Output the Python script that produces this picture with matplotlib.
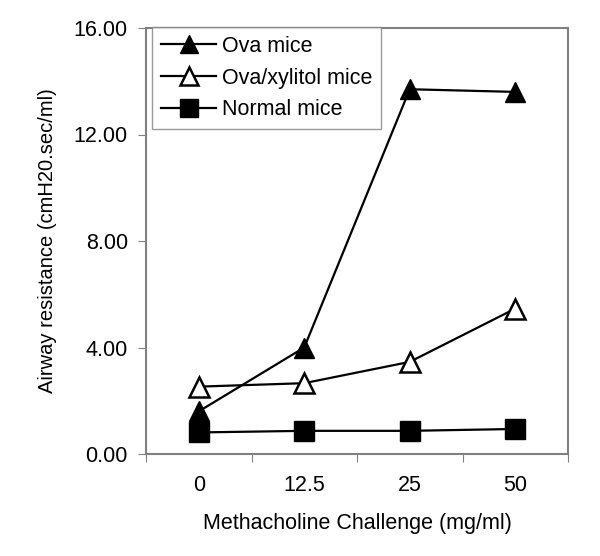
import matplotlib
matplotlib.use("Agg")
import matplotlib.pyplot as plt

plt.rcParams['font.family'] = ['Liberation Sans', 'DejaVu Sans']

categories = ["0", "12.5", "25", "50"]
ova = [1.6, 4.0, 13.7, 13.6]
ova_xylitol = [2.53, 2.66, 3.46, 5.46]
normal = [0.81, 0.87, 0.87, 0.94]
yticks = [0, 4, 8, 12, 16]

fig = plt.figure(figsize=(6, 5.56), dpi=100)
ax = fig.add_axes([146/600, 1-454/556, (568-146)/600, (454-28)/556])

x = list(range(len(categories)))
ax.plot(x, ova, color='black', lw=1.6, marker='^', ms=15, mfc='black', mec='black', label='Ova mice', zorder=3)
ax.plot(x, ova_xylitol, color='black', lw=1.6, marker='^', ms=15, mfc='white', mec='black', mew=1.8, label='Ova/xylitol mice', zorder=3)
ax.plot(x, normal, color='black', lw=1.6, marker='s', ms=14, mfc='black', mec='black', label='Normal mice', zorder=4)

ax.set_xlim(-0.5, 3.5)
ax.set_ylim(0, 16)
ax.set_yticks(yticks)
ax.set_yticklabels([f"{v:.2f}" for v in yticks])
ax.set_xticks([-0.5, 0.5, 1.5, 2.5, 3.5])
ax.set_xticklabels([])
ax.set_xticks(x, minor=True)
ax.set_xticklabels(categories, minor=True)
ax.tick_params(axis='x', which='minor', length=0, pad=15, labelsize=15.5)
ax.tick_params(axis='x', which='major', length=6, color='#808080', direction='out')
ax.tick_params(axis='y', length=6, color='#808080', direction='out', labelsize=15.5, pad=7)
for s in ax.spines.values():
    s.set_color('#808080')
    s.set_linewidth(1.5)

ax.set_xlabel("Methacholine Challenge (mg/ml)", fontsize=15.5, labelpad=12)
ax.set_ylabel("Airway resistance (cmH20.sec/ml)", fontsize=14.5, labelpad=12)

leg = ax.legend(loc='upper left', bbox_to_anchor=(0.014, 1.002), fontsize=15.5, frameon=True, fancybox=False,
                edgecolor='#808080', handlelength=2.6, borderpad=0.4, labelspacing=0.5, handletextpad=0.25, borderaxespad=0.0)
leg.get_frame().set_linewidth(1.0)
for h in leg.legend_handles:
    h.set_markersize(13)

fig.savefig("out.png", dpi=100)
